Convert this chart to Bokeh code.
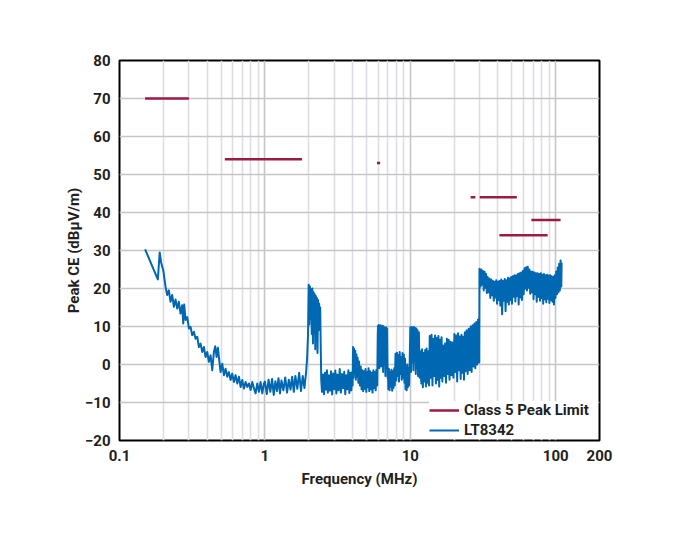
from bokeh.plotting import figure
from bokeh.models import (FixedTicker, CustomJSTickFormatter, Legend, LegendItem,
                          ColumnDataSource, Range1d)
from bokeh.embed import file_html
from bokeh.resources import INLINE

# ---------------- data ----------------
# CISPR 25 Class 5 peak limits (MHz start, MHz stop, dBuV/m)
limit_start = [0.15, 0.53, 5.9, 26.0, 30.0, 41.0, 68.0]
limit_stop = [0.30, 1.8, 6.2, 28.0, 54.0, 88.0, 108.0]
limit_level = [70, 54, 53, 44, 44, 34, 38]

# LT8342 peak CE trace, (frequency MHz, dBuV/m)
lf_trace = [
    (0.150, 30.3), (0.1835, 22.4), (0.189, 29.5), (0.1935, 26.8), (0.200, 24.8),
    (0.2074, 20.4), (0.2128, 18.3), (0.2185, 19.5), (0.2244, 16.5), (0.2304, 18.3),
    (0.2366, 15.2), (0.2429, 17.1), (0.2494, 14.7), (0.2560, 16.5), (0.2629, 13.4),
    (0.2699, 15.6), (0.2743, 10.8), (0.2787, 15.8), (0.2846, 11.7), (0.2923, 12.5),
    (0.3001, 9.5), (0.3081, 9.9), (0.3163, 7.7), (0.3248, 8.6), (0.3335, 6.8),
    (0.3424, 7.3), (0.3516, 4.6), (0.3610, 5.5), (0.3707, 3.3), (0.3805, 4.6),
    (0.3907, 2.0), (0.4012, 3.3), (0.4119, 0.7), (0.4229, 2.4), (0.4343, -1.5),
    (0.4459, 3.3), (0.4554, 4.8), (0.4651, 2.0), (0.4751, 4.4), (0.4853, 1.1),
    (0.4955, -2.0), (0.5088, 0.2), (0.5224, -2.8), (0.5363, -1.1), (0.5508, -3.2),
    (0.5655, -2.0), (0.5807, -4.1), (0.5962, -2.4), (0.6122, -4.6), (0.6285, -2.8),
    (0.6455, -5.0), (0.6627, -3.2), (0.6805, -5.9), (0.6987, -4.1), (0.7174, -6.3),
    (0.7366, -4.6), (0.7564, -5.9), (0.7765, -5.0), (0.7973, -6.7), (0.8187, -4.6),
    (0.8405, -6.3), (0.8630, -7.6), (0.8861, -5.0), (0.9097, -7.2), (0.9342, -4.6),
    (0.9592, -7.6), (0.9847, -5.0),
]
mf_trace = [
    (1.00, -4.5), (1.03, -7.8), (1.06, -4.0), (1.09, -7.2), (1.12, -3.8), (1.15, -8.0),
    (1.18, -4.4), (1.21, -7.0), (1.24, -3.6), (1.27, -7.6), (1.30, -4.2), (1.34, -6.8),
    (1.38, -3.4), (1.42, -7.4), (1.46, -4.0), (1.50, -6.6), (1.54, -3.2), (1.58, -7.2),
    (1.62, -3.0), (1.67, -6.4), (1.72, -2.2), (1.77, -7.0), (1.82, -3.0), (1.87, -6.2),
    (1.92, -2.0), (1.95, 1.5), (1.98, 8.0), (2.00, 21.0), (2.02, 10.5), (2.04, 20.5),
    (2.06, 12.0), (2.08, 19.8), (2.10, 8.0), (2.12, 20.0), (2.14, 5.5), (2.16, 19.0),
    (2.18, 9.0), (2.20, 18.5), (2.22, 4.0), (2.24, 18.0), (2.26, 7.5), (2.28, 17.5),
    (2.30, 3.0), (2.32, 17.0), (2.34, 9.0), (2.36, 16.0), (2.38, 10.0), (2.40, 15.0),
    (2.42, 5.0), (2.44, -4.0), (2.47, -7.2), (2.51, -2.6), (2.55, -7.8), (2.59, -2.2),
    (2.63, -6.6), (2.67, -1.5), (2.71, -7.4), (2.75, -2.8), (2.80, -6.9), (2.85, -1.8),
    (2.90, -7.9), (2.95, -2.4), (3.00, -6.5), (3.05, -1.6), (3.10, -7.6), (3.15, -2.6),
    (3.21, -6.8), (3.27, -1.2), (3.33, -7.4), (3.39, -2.5), (3.45, -6.2), (3.51, -1.9),
    (3.57, -7.8), (3.63, -2.8), (3.69, -6.5), (3.75, -1.5), (3.81, -7.5), (3.87, -2.2),
    (3.93, -6.8), (3.98, -2.0), (4.01, -5.5), (4.04, 4.6), (4.07, -3.5), (4.10, 4.2),
    (4.14, -2.5), (4.18, 3.6), (4.22, -4.0), (4.26, 2.6), (4.30, -3.2), (4.34, 1.8),
    (4.39, -4.8), (4.44, 0.8), (4.50, -5.5), (4.56, -0.5), (4.62, -6.5), (4.68, -1.5),
    (4.74, -7.0), (4.80, -1.8), (4.86, -6.4), (4.92, -1.2), (4.98, -7.2), (5.04, -2.0),
    (5.10, -6.0), (5.16, -1.0), (5.22, -7.0), (5.29, -1.8), (5.36, -6.5), (5.43, -2.2),
    (5.50, -7.4), (5.57, -1.5), (5.64, -6.2), (5.71, -2.0), (5.78, -6.8), (5.85, -1.4),
    (5.92, -5.5), (5.97, 8.0), (6.00, 10.2), (6.04, 0.5), (6.08, 10.4), (6.12, -1.0),
    (6.16, 10.0), (6.20, 1.5), (6.25, 10.3), (6.30, -0.5), (6.35, 9.8), (6.40, 1.0),
    (6.45, 10.2), (6.50, -2.0), (6.56, 10.0), (6.62, 0.0), (6.68, 9.6), (6.74, -3.0),
    (6.80, 9.8), (6.87, -1.0), (6.93, 9.5), (6.98, -3.5), (7.02, -1.0), (7.06, -6.5),
    (7.13, -1.2), (7.20, -6.8), (7.27, -2.0), (7.35, -5.8), (7.42, -1.4), (7.50, -6.9),
    (7.58, -1.8), (7.66, -6.2), (7.75, -1.0), (7.83, -5.5), (7.91, 2.8), (8.00, -4.2),
    (8.09, 3.1), (8.18, -3.0), (8.27, 2.5), (8.36, -4.5), (8.45, 3.3), (8.54, -2.5),
    (8.64, 2.0), (8.73, -4.0), (8.83, 3.0), (8.93, -3.5), (9.02, 2.6), (9.12, -4.8),
    (9.20, 1.5), (9.27, -6.5), (9.35, -0.5), (9.44, -6.8), (9.53, 0.0), (9.62, -6.0),
    (9.71, -1.0), (9.80, -5.5), (9.90, 0.5),
]
hf_trace = [
    (10.0, 9.8), (10.1, -2.0), (10.2, 9.9), (10.3, 0.5), (10.4, 9.7), (10.5, -1.5),
    (10.6, 9.9), (10.7, 1.0), (10.8, 9.6), (10.9, -2.5), (11.0, 9.5), (11.1, -1.0),
    (11.2, 9.0), (11.3, -3.0), (11.45, 8.5), (11.6, -3.5), (11.75, 3.5), (11.9, -5.0),
    (12.05, 4.0), (12.2, -6.0), (12.35, 3.0), (12.5, -4.5), (12.65, 3.8), (12.8, -5.8),
    (12.95, 4.2), (13.1, -4.8), (13.3, 3.5), (13.45, -5.5), (13.6, 7.5), (13.8, -3.5),
    (14.0, 7.8), (14.2, -5.5), (14.4, 6.8), (14.6, -3.0), (14.8, 7.6), (15.0, -5.0),
    (15.2, 7.0), (15.4, -4.0), (15.6, 7.5), (15.8, -5.8), (16.0, 6.5), (16.2, -3.5),
    (16.4, 7.2), (16.6, -4.5), (16.85, 5.0), (17.1, -3.0), (17.35, 5.5), (17.6, -4.8),
    (17.85, 6.8), (18.1, -2.5), (18.35, 6.5), (18.6, -4.0), (18.9, 6.0), (19.2, -2.8),
    (19.5, 5.8), (19.8, -3.5), (20.1, 8.0), (20.4, -2.0), (20.7, 7.6), (21.0, -4.5),
    (21.3, 8.2), (21.6, -1.5), (21.9, 7.4), (22.2, -3.8), (22.5, 7.8), (22.8, -2.2),
    (23.1, 7.3), (23.4, -4.0), (23.7, 8.5), (24.0, -1.8), (24.4, 9.0), (24.8, -2.5),
    (25.2, 9.4), (25.6, -1.5), (26.0, 10.0), (26.4, -2.0), (26.8, 10.3), (27.2, -0.5),
    (27.6, 10.8), (28.0, -1.0), (28.4, 11.2), (28.8, 0.0), (29.2, 11.8), (29.5, 0.5),
    (29.7, 12.0), (29.8, 0.5),
]
vhf_trace = [
    (29.9, 25.2), (30.4, 20.5), (30.8, 25.0), (31.2, 21.0), (31.6, 24.6), (32.0, 19.5),
    (32.4, 24.4), (32.8, 20.2), (33.2, 23.8), (33.6, 18.8), (34.0, 23.0), (34.5, 19.0),
    (35.0, 22.6), (35.5, 17.5), (36.0, 22.4), (36.5, 18.2), (37.0, 22.0), (37.5, 16.8),
    (38.0, 21.8), (38.5, 17.6), (39.0, 22.2), (39.5, 16.0), (40.0, 21.8), (40.5, 17.0),
    (41.0, 22.0), (41.6, 15.5), (42.2, 22.4), (42.8, 13.2), (43.4, 22.0), (44.0, 16.8),
    (44.6, 22.5), (45.2, 14.0), (45.8, 22.2), (46.4, 16.5), (47.0, 22.8), (47.6, 15.8),
    (48.2, 22.6), (48.8, 17.0), (49.4, 23.0), (50.0, 16.0), (50.7, 23.2), (51.4, 17.8),
    (52.1, 23.5), (52.8, 16.6), (53.5, 23.4), (54.2, 18.0), (54.9, 23.8), (55.6, 15.8),
    (56.3, 24.0), (57.0, 17.6), (57.8, 24.2), (58.6, 17.0), (59.4, 24.6), (60.2, 18.5),
    (61.0, 25.3), (61.8, 20.0), (62.6, 25.6), (63.4, 19.5), (64.2, 25.7), (65.0, 20.2),
    (65.9, 25.0), (66.8, 18.6), (67.7, 24.5), (68.6, 19.0), (69.5, 24.4), (70.4, 17.2),
    (71.3, 24.2), (72.2, 18.5), (73.1, 24.0), (74.0, 16.5), (75.0, 24.0), (76.0, 17.8),
    (77.0, 23.8), (78.0, 16.8), (79.0, 24.0), (80.0, 17.5), (81.0, 23.6), (82.0, 16.0),
    (83.0, 23.8), (84.0, 17.2), (85.0, 23.5), (86.1, 16.4), (87.2, 23.6), (88.3, 17.3),
    (89.4, 23.4), (90.5, 16.2), (91.6, 23.5), (92.7, 17.0), (93.8, 23.2), (94.9, 16.5),
    (96.0, 23.0), (97.2, 15.8), (98.4, 23.5), (99.6, 17.5), (100.8, 24.5), (102.0, 18.5),
    (103.2, 25.5), (104.4, 19.0), (105.6, 26.5), (106.8, 19.5), (108.0, 27.4), (109.2, 20.5),
    (109.8, 26.8),
]

x_ticks = [0.1, 1, 10, 100, 200]
x_minor = [0.2, 0.3, 0.4, 0.5, 0.6, 0.7, 0.8, 0.9,
           2, 3, 4, 5, 6, 7, 8, 9,
           20, 30, 40, 50, 60, 70, 80, 90]
y_ticks = [-20, -10, 0, 10, 20, 30, 40, 50, 60, 70, 80]

# ---------------- styling ----------------
FONT = "Roboto"
TXT = "#231f20"
BLUE = "#0068b3"
RED = "#9c1b45"

trace = lf_trace + mf_trace + hf_trace + vhf_trace
trace_src = ColumnDataSource(dict(f=[t[0] for t in trace], v=[t[1] for t in trace]))
lim_src = ColumnDataSource(dict(start=limit_start, stop=limit_stop, level=limit_level))

p = figure(x_axis_type="log", x_range=Range1d(0.1, 200), y_range=Range1d(-20, 80),
           frame_width=480, frame_height=380,
           min_border_left=119, min_border_top=60, min_border_right=50, min_border_bottom=70,
           output_backend="svg", toolbar_location=None)

p.background_fill_color = "white"
p.border_fill_color = "white"
p.outline_line_color = "black"
p.outline_line_width = 2
p.outline_line_alpha = 1

xt = FixedTicker(ticks=x_ticks, minor_ticks=x_minor)
p.xaxis.ticker = xt
p.xgrid.ticker = xt
p.xaxis.formatter = CustomJSTickFormatter(code="return tick.toString();")
yt = FixedTicker(ticks=y_ticks)
p.yaxis.ticker = yt
p.ygrid.ticker = yt

p.xgrid.grid_line_color = "#c6c6c6"
p.xgrid.grid_line_width = 1.6
p.xgrid.minor_grid_line_color = "#dddde3"
p.xgrid.minor_grid_line_width = 1.6
p.ygrid.grid_line_color = "#c6c6c6"
p.ygrid.grid_line_width = 1.6

for ax in (p.xaxis[0], p.yaxis[0]):
    ax.axis_line_color = None
    ax.major_tick_line_color = None
    ax.minor_tick_line_color = None
    ax.major_tick_out = 0
    ax.major_tick_in = 0
    ax.minor_tick_out = 0
    ax.minor_tick_in = 0
    ax.major_label_text_font = FONT
    ax.major_label_text_font_style = "bold"
    ax.major_label_text_font_size = "15px"
    ax.major_label_text_color = TXT
    ax.axis_label_text_font = FONT
    ax.axis_label_text_font_style = "bold"
    ax.axis_label_text_font_size = "15px"
    ax.axis_label_text_color = TXT

p.xaxis.axis_label = "Frequency (MHz)"
p.yaxis.axis_label = "Peak CE (dBµV/m)"
p.xaxis.major_label_standoff = 9
p.yaxis.major_label_standoff = 9
p.xaxis.axis_label_standoff = 6
p.yaxis.axis_label_standoff = -1

r_tr = p.line("f", "v", source=trace_src, line_color=BLUE, line_width=2, line_join="round")
r_lim = p.segment(x0="start", x1="stop", y0="level", y1="level", source=lim_src,
                  line_color=RED, line_width=2.5)

legend = Legend(items=[LegendItem(label="Class 5 Peak Limit", renderers=[r_lim]),
                       LegendItem(label="LT8342", renderers=[r_tr])],
                location="bottom_right")
legend.border_line_color = None
legend.background_fill_color = "white"
legend.background_fill_alpha = 1
legend.margin = 1
legend.padding = 4
legend.spacing = 2
legend.glyph_width = 30
legend.glyph_height = 18
legend.label_height = 18
legend.label_width = 134
legend.label_standoff = 5
legend.label_text_font = FONT
legend.label_text_font_style = "bold"
legend.label_text_font_size = "15px"
legend.label_text_color = TXT
p.add_layout(legend)

open("out.html", "w").write(file_html(p, INLINE))
